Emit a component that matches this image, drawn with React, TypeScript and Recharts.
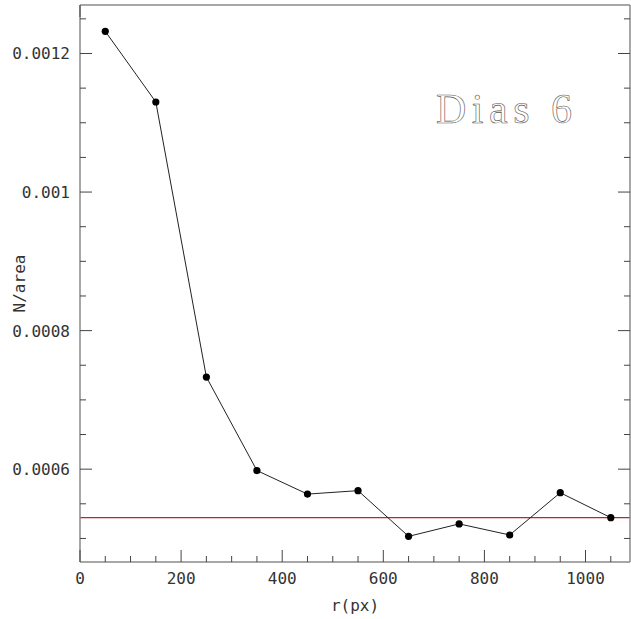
import { LineChart, Line, XAxis, YAxis, ReferenceLine, Label } from "recharts";

// radius bins (px) and density per bin
const radius = [50, 150, 250, 350, 450, 550, 650, 750, 850, 950, 1050];
const density = [0.001232, 0.00113, 0.000733, 0.000598, 0.000564, 0.000569, 0.000503, 0.000521, 0.000505, 0.000566, 0.00053];
const background = 0.00053;

const xTicks = [0, 50, 100, 150, 200, 250, 300, 350, 400, 450, 500, 550, 600, 650, 700, 750, 800, 850, 900, 950, 1000, 1050];
const xLabels = [0, 200, 400, 600, 800, 1000];
const yTicks = [0.0005, 0.00055, 0.0006, 0.00065, 0.0007, 0.00075, 0.0008, 0.00085, 0.0009, 0.00095, 0.001, 0.00105, 0.0011, 0.00115, 0.0012, 0.00125];
const yLabels = [0.0006, 0.0008, 0.001, 0.0012];

const data = radius.map((r, i) => ({ r, n: density[i] }));

const FONT = "DejaVu Sans Mono";
const AXIS = "#8a8a8a";
const TICK = "#444";

function makeXTick(dir: number, labels: boolean) {
    return (props: any) => {
        const { x, y, payload } = props;
        const major = xLabels.includes(payload.value);
        return (
            <g>
                <line x1={x} x2={x} y1={y} y2={y + dir * (major ? 12 : 6)} stroke={TICK} strokeWidth={1} />
                {labels && major && (
                    <text x={x} y={y + 22} textAnchor="middle" fontFamily={FONT} fontSize={16} fill="#333">
                        {payload.value}
                    </text>
                )}
            </g>
        );
    };
}

function makeYTick(dir: number, labels: boolean) {
    return (props: any) => {
        const { x, y, payload } = props;
        const major = yLabels.some((v) => Math.abs(v - payload.value) < 1e-9);
        return (
            <g>
                <line x1={x} x2={x + dir * (major ? 12 : 6)} y1={y} y2={y} stroke={TICK} strokeWidth={1} />
                {labels && major && (
                    <text x={x - 10} y={y + 6} textAnchor="end" fontFamily={FONT} fontSize={16} fill="#333">
                        {String(payload.value)}
                    </text>
                )}
            </g>
        );
    };
}

export default function App() {
    return (
        <div style={{ position: "absolute", left: 0, top: 0, background: "#fff" }}>
            <LineChart width={631} height={619} data={data} margin={{ top: 0, right: 0, left: 0, bottom: 0 }}>
                <XAxis
                    dataKey="r"
                    type="number"
                    domain={[0, 1088]}
                    allowDataOverflow
                    ticks={xTicks}
                    interval={0}
                    height={57}
                    tickSize={0}
                    tickMargin={0}
                    tickLine={false}
                    axisLine={{ stroke: AXIS, strokeWidth: 1.5 }}
                    tick={makeXTick(-1, true)}
                >
                    <Label value="r(px)" position="insideBottom" offset={8} style={{ fontFamily: FONT, fontSize: 16, fill: "#333" }} />
                </XAxis>
                <XAxis
                    xAxisId="top"
                    orientation="top"
                    type="number"
                    domain={[0, 1088]}
                    allowDataOverflow
                    ticks={xTicks}
                    interval={0}
                    height={5}
                    tickSize={0}
                    tickMargin={0}
                    tickLine={false}
                    axisLine={{ stroke: AXIS, strokeWidth: 1.5 }}
                    tick={makeXTick(1, false)}
                />
                <YAxis
                    type="number"
                    domain={[0.000466, 0.00127]}
                    allowDataOverflow
                    ticks={yTicks}
                    interval={0}
                    width={80}
                    tickSize={0}
                    tickMargin={0}
                    tickLine={false}
                    axisLine={{ stroke: AXIS, strokeWidth: 1.5 }}
                    tick={makeYTick(1, true)}
                >
                    <Label value="N/area" angle={-90} position="insideLeft" offset={19} style={{ fontFamily: FONT, fontSize: 16, fill: "#333", textAnchor: "middle" }} />
                </YAxis>
                <YAxis
                    yAxisId="right"
                    orientation="right"
                    type="number"
                    domain={[0.000466, 0.00127]}
                    allowDataOverflow
                    ticks={yTicks}
                    interval={0}
                    width={1}
                    tickSize={0}
                    tickMargin={0}
                    tickLine={false}
                    axisLine={{ stroke: AXIS, strokeWidth: 1.5 }}
                    tick={makeYTick(-1, false)}
                />
                <ReferenceLine y={background} stroke="#b52a2a" strokeWidth={1.3} />
                <Line
                    type="linear"
                    dataKey="n"
                    stroke="#222"
                    strokeWidth={1}
                    dot={{ r: 3.6, fill: "#000", stroke: "#000", strokeWidth: 0 }}
                    activeDot={false}
                    isAnimationActive={false}
                />
                <text x={436} y={123} fontFamily="Liberation Serif" fontSize={42} letterSpacing={5.5} fill="#fff" stroke="#555" strokeWidth={0.6}>
                    Dias 6
                </text>
            </LineChart>
        </div>
    );
}
